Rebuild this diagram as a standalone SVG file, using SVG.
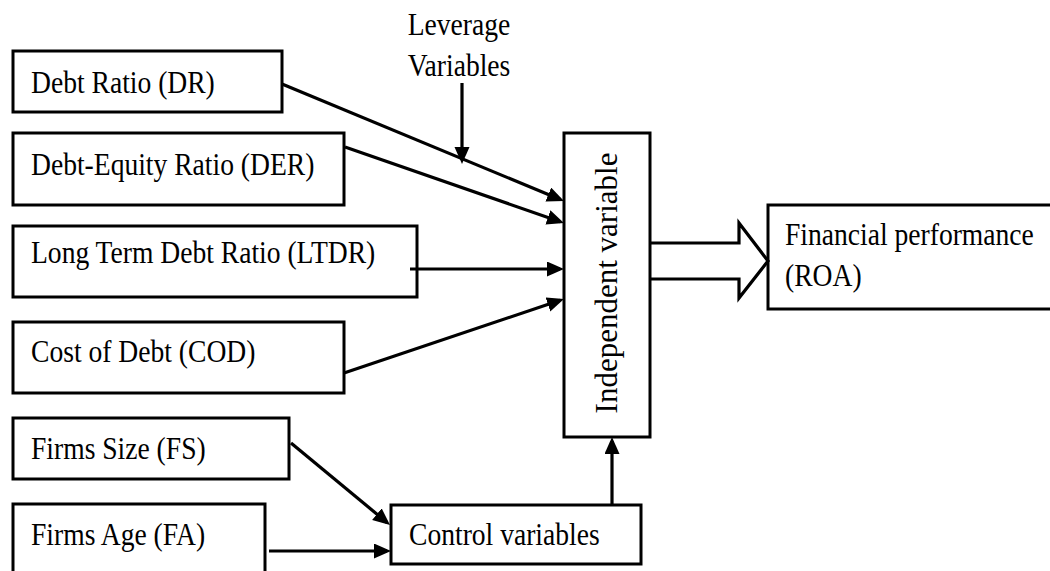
<svg xmlns="http://www.w3.org/2000/svg" width="1050" height="571" viewBox="0 0 1050 571">
  <style>
    .box { fill: #ffffff; stroke: #000000; stroke-width: 3; }
    .lbl { font-family: "Liberation Serif", "Times New Roman", serif; font-size: 31px; fill: #000000; }
    .conn { stroke: #000000; stroke-width: 3.2; fill: none; }
  </style>
  <defs>
    <marker id="ah" markerUnits="userSpaceOnUse" markerWidth="18" markerHeight="16" refX="13" refY="7.5" orient="auto">
      <path d="M0,0 L17,7.5 L0,15 z" fill="#000000"/>
    </marker>
  </defs>
  <rect width="1050" height="571" fill="#ffffff"/>

  <g id="node-dr">
    <rect class="box" x="13" y="51" width="269" height="61"/>
    <text class="lbl" transform="translate(31,93) scale(0.89,1)">Debt Ratio (DR)</text>
  </g>
  <g id="node-der">
    <rect class="box" x="13" y="133" width="331" height="72"/>
    <text class="lbl" transform="translate(31,175) scale(0.89,1)">Debt-Equity Ratio (DER)</text>
  </g>
  <g id="node-ltdr">
    <rect class="box" x="13" y="226" width="404" height="71"/>
    <text class="lbl" transform="translate(31,263) scale(0.89,1)">Long Term Debt Ratio (LTDR)</text>
  </g>
  <g id="node-cod">
    <rect class="box" x="13" y="322" width="331" height="71"/>
    <text class="lbl" transform="translate(31,362) scale(0.89,1)">Cost of Debt (COD)</text>
  </g>
  <g id="node-fs">
    <rect class="box" x="13" y="418" width="276" height="61"/>
    <text class="lbl" transform="translate(31,459) scale(0.89,1)">Firms Size (FS)</text>
  </g>
  <g id="node-fa">
    <rect class="box" x="13" y="504" width="252" height="80"/>
    <text class="lbl" transform="translate(31,545) scale(0.89,1)">Firms Age (FA)</text>
  </g>
  <g id="node-leverage">
    <text class="lbl" text-anchor="middle" transform="translate(459,35) scale(0.89,1)">Leverage</text>
    <text class="lbl" text-anchor="middle" transform="translate(459,76) scale(0.89,1)">Variables</text>
  </g>
  <g id="node-independent">
    <rect class="box" x="564" y="133" width="86" height="304"/>
    <text class="lbl" text-anchor="middle" transform="translate(617,283) rotate(-90)">Independent variable</text>
  </g>
  <g id="node-control">
    <rect class="box" x="391" y="505" width="250" height="59"/>
    <text class="lbl" transform="translate(409,545) scale(0.89,1)">Control variables</text>
  </g>
  <g id="node-financial">
    <rect class="box" x="768" y="205" width="290" height="104"/>
    <text class="lbl" transform="translate(785,245) scale(0.89,1)">Financial performance</text>
    <text class="lbl" transform="translate(785,286) scale(0.89,1)">(ROA)</text>
  </g>

  <g id="connectors">
    <line class="conn" x1="282" y1="84" x2="560.3" y2="199.5" marker-end="url(#ah)"/>
    <line class="conn" x1="345" y1="147" x2="560.2" y2="221.7" marker-end="url(#ah)"/>
    <line class="conn" x1="410" y1="269" x2="560" y2="269" marker-end="url(#ah)"/>
    <line class="conn" x1="344" y1="373" x2="560.2" y2="300.3" marker-end="url(#ah)"/>
    <line class="conn" x1="462" y1="83" x2="462" y2="160" marker-end="url(#ah)"/>
    <line class="conn" x1="291" y1="443" x2="386.9" y2="522.4" marker-end="url(#ah)"/>
    <line class="conn" x1="269" y1="551" x2="387" y2="551" marker-end="url(#ah)"/>
    <line class="conn" x1="612" y1="505" x2="612" y2="441" marker-end="url(#ah)"/>
    <path class="conn" d="M650,243 H739 V223 L768,261 L739,298 V279 H650" fill="#ffffff"/>
  </g>
</svg>
